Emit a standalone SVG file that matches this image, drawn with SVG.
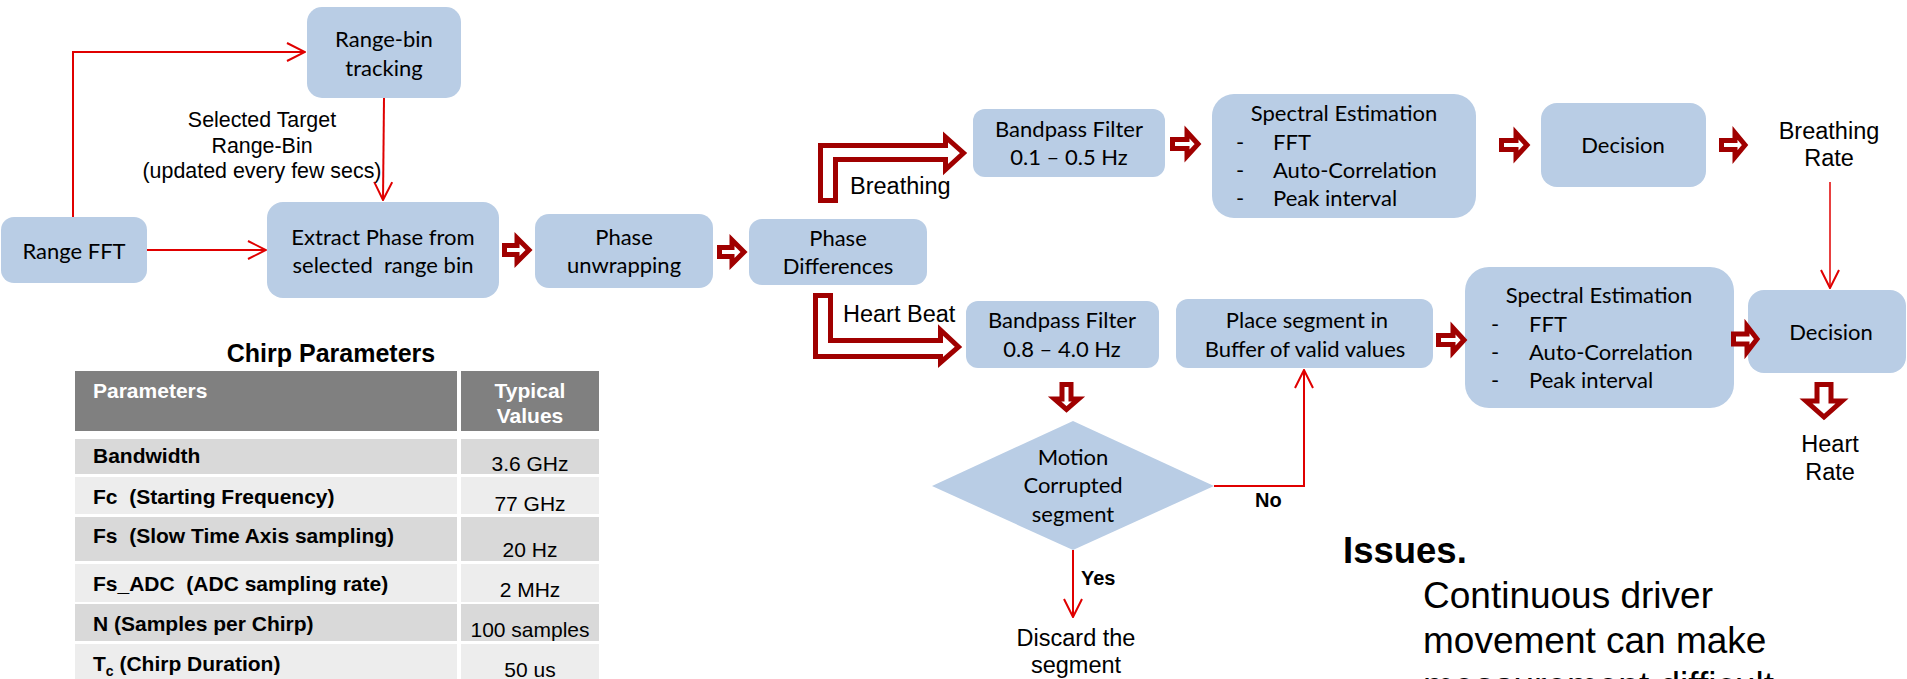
<svg xmlns="http://www.w3.org/2000/svg" width="1907" height="679" viewBox="0 0 1907 679">
<defs>
<style>
.box{fill:#B9CDE5;}
.cal{font-family:Lato,Carlito,"Liberation Sans",sans-serif;font-size:22px;fill:#000;}
.ar{font-family:"Liberation Sans",Arial,sans-serif;fill:#000;}
.lbl{font-size:23.5px;}
.mid{text-anchor:middle;}
.bold{font-weight:bold;}
.harrow{fill:#fff;stroke:#A00000;stroke-width:5;stroke-linejoin:miter;}
.conn{fill:none;stroke:#E00000;stroke-width:2;}
.tb{font-family:"Liberation Sans",Arial,sans-serif;font-size:21px;fill:#000;}
.th{fill:#808080;}
.rd{fill:#D9D9D9;}
.rl{fill:#EDEDED;}
</style>
<marker id="open" viewBox="0 0 20 20" refX="19" refY="10" markerWidth="20" markerHeight="20" markerUnits="userSpaceOnUse" orient="auto">
<path d="M1,1 L19,10 L1,19" fill="none" stroke="#E00000" stroke-width="2"/>
</marker>
</defs>
<rect width="1907" height="679" fill="#fff"/>

<g id="range-fft">
<rect class="box" x="1" y="217" width="146" height="66" rx="13"/>
<text class="cal mid" x="74" y="259">Range FFT</text>
</g>

<g id="range-bin-tracking">
<rect class="box" x="307" y="7" width="154" height="91" rx="15"/>
<text class="cal mid" x="384" y="47">Range-bin</text>
<text class="cal mid" x="384" y="76">tracking</text>
</g>

<g id="extract-phase">
<rect class="box" x="267" y="202" width="232" height="96" rx="16"/>
<text class="cal mid" x="383" y="245">Extract Phase from</text>
<text class="cal mid" x="383" y="273" xml:space="preserve">selected  range bin</text>
</g>

<g id="phase-unwrapping">
<rect class="box" x="535" y="214" width="178" height="74" rx="14"/>
<text class="cal mid" x="624" y="245">Phase</text>
<text class="cal mid" x="624" y="273">unwrapping</text>
</g>

<g id="phase-differences">
<rect class="box" x="749" y="219" width="178" height="66" rx="13"/>
<text class="cal mid" x="838" y="246">Phase</text>
<text class="cal mid" x="838" y="274">Differences</text>
</g>

<g id="bandpass-breathing">
<rect class="box" x="973" y="109" width="192" height="68" rx="12"/>
<text class="cal mid" x="1069" y="137">Bandpass Filter</text>
<text class="cal mid" x="1069" y="165">0.1 – 0.5 Hz</text>
</g>

<g id="spectral-breathing">
<rect class="box" x="1212" y="94" width="264" height="124" rx="22"/>
<text class="cal mid" x="1344" y="121">Spectral Estimation</text>
<text class="cal" x="1236" y="150">-</text>
<text class="cal" x="1273" y="150">FFT</text>
<text class="cal" x="1236" y="178">-</text>
<text class="cal" x="1273" y="178">Auto-Correlation</text>
<text class="cal" x="1236" y="206">-</text>
<text class="cal" x="1273" y="206">Peak interval</text>
</g>

<g id="decision-breathing">
<rect class="box" x="1541" y="103" width="165" height="84" rx="16"/>
<text class="cal mid" x="1623" y="153">Decision</text>
</g>

<g id="breathing-rate">
<text class="ar lbl mid" x="1829" y="139">Breathing</text>
<text class="ar lbl mid" x="1829" y="166">Rate</text>
</g>

<g id="bandpass-heart">
<rect class="box" x="966" y="301" width="193" height="67" rx="12"/>
<text class="cal mid" x="1062" y="328">Bandpass Filter</text>
<text class="cal mid" x="1062" y="357">0.8 – 4.0 Hz</text>
</g>

<g id="place-segment">
<rect class="box" x="1176" y="299" width="257" height="69" rx="12"/>
<text class="cal mid" x="1307" y="328">Place segment in</text>
<text class="cal mid" x="1305" y="357">Buffer of valid values</text>
</g>

<g id="spectral-heart">
<rect class="box" x="1465" y="267" width="269" height="141" rx="24"/>
<text class="cal mid" x="1599" y="303">Spectral Estimation</text>
<text class="cal" x="1491" y="332">-</text>
<text class="cal" x="1529" y="332">FFT</text>
<text class="cal" x="1491" y="360">-</text>
<text class="cal" x="1529" y="360">Auto-Correlation</text>
<text class="cal" x="1491" y="388">-</text>
<text class="cal" x="1529" y="388">Peak interval</text>
</g>

<g id="decision-heart">
<rect class="box" x="1748" y="290" width="158" height="83" rx="16"/>
<text class="cal mid" x="1831" y="340">Decision</text>
</g>

<g id="heart-rate">
<text class="ar lbl mid" x="1830" y="452">Heart</text>
<text class="ar lbl mid" x="1830" y="480">Rate</text>
</g>

<g id="motion-corrupted">
<polygon class="box" points="1073,421 1214,486 1073,550 932,486"/>
<text class="cal mid" x="1073" y="465">Motion</text>
<text class="cal mid" x="1073" y="493">Corrupted</text>
<text class="cal mid" x="1073" y="522">segment</text>
</g>

<g id="discard">
<text class="ar lbl mid" x="1076" y="646">Discard the</text>
<text class="ar lbl mid" x="1076" y="673">segment</text>
</g>

<g id="issues">
<text class="ar bold" x="1343" y="563" font-size="36.5">Issues.</text>
<text class="ar" x="1423" y="608" font-size="37">Continuous driver</text>
<text class="ar" x="1423" y="653" font-size="37">movement can make</text>
<text class="ar" x="1423" y="698" font-size="37">measurement difficult</text>
</g>

<g id="chirp-table">
<text class="ar bold mid" x="331" y="362" font-size="25">Chirp Parameters</text>
<rect class="th" x="75" y="371" width="382" height="60"/>
<rect class="th" x="461" y="371" width="138" height="60"/>
<rect class="rd" x="75" y="439" width="382" height="35"/>
<rect class="rd" x="461" y="439" width="138" height="35"/>
<rect class="rl" x="75" y="477" width="382" height="37"/>
<rect class="rl" x="461" y="477" width="138" height="37"/>
<rect class="rd" x="75" y="517" width="382" height="44"/>
<rect class="rd" x="461" y="517" width="138" height="44"/>
<rect class="rl" x="75" y="564" width="382" height="38"/>
<rect class="rl" x="461" y="564" width="138" height="38"/>
<rect class="rd" x="75" y="604" width="382" height="37"/>
<rect class="rd" x="461" y="604" width="138" height="37"/>
<rect class="rl" x="75" y="644" width="382" height="40"/>
<rect class="rl" x="461" y="644" width="138" height="40"/>
<text class="tb bold" x="93" y="398" style="fill:#fff">Parameters</text>
<text class="tb bold mid" x="530" y="398" style="fill:#fff">Typical</text>
<text class="tb bold mid" x="530" y="423" style="fill:#fff">Values</text>
<text class="tb bold" x="93" y="463">Bandwidth</text>
<text class="tb mid" x="530" y="471">3.6 GHz</text>
<text class="tb bold" x="93" y="504" xml:space="preserve">Fc  (Starting Frequency)</text>
<text class="tb mid" x="530" y="511">77 GHz</text>
<text class="tb bold" x="93" y="543" xml:space="preserve">Fs  (Slow Time Axis sampling)</text>
<text class="tb mid" x="530" y="557">20 Hz</text>
<text class="tb bold" x="93" y="591" xml:space="preserve">Fs_ADC  (ADC sampling rate)</text>
<text class="tb mid" x="530" y="597">2 MHz</text>
<text class="tb bold" x="93" y="631">N (Samples per Chirp)</text>
<text class="tb mid" x="530" y="637">100 samples</text>
<text class="tb bold" x="93" y="671">T<tspan font-size="14" dy="5">c</tspan><tspan dy="-5"> (Chirp Duration)</tspan></text>
<text class="tb mid" x="530" y="677">50 us</text>
</g>

<g id="connectors">
<path class="conn" d="M73,217 V52 H305" marker-end="url(#open)"/>
<path class="conn" d="M147,250 H266" marker-end="url(#open)"/>
<path class="conn" d="M384,98 L383,200" marker-end="url(#open)"/>
<path class="conn" d="M1214,486 H1304 V370" marker-end="url(#open)"/>
<path class="conn" d="M1073,550 V617" marker-end="url(#open)"/>
<path class="conn" d="M1830,182 V288" style="stroke-width:1.5" marker-end="url(#open)"/>
<path class="harrow" d="M504.5,245.5 H517 V238 L529,250 L517,262 V254.5 H504.5 Z"/>
<path class="harrow" d="M719.5,247.5 H732 V240 L744,252 L732,264 V256.5 H719.5 Z"/>
<path class="harrow" d="M1172.5,139.5 H1187 V132 L1198,144 L1187,156 V148.5 H1172.5 Z"/>
<path class="harrow" d="M1501.5,140.5 H1516 V133 L1527,145 L1516,157 V149.5 H1501.5 Z"/>
<path class="harrow" d="M1721.5,140.5 H1735 V133 L1745,145 L1735,157 V149.5 H1721.5 Z"/>
<path class="harrow" d="M1438.5,335.5 H1453 V328 L1464,340 L1453,352 V344.5 H1438.5 Z"/>
<path class="harrow" d="M1733.5,334 H1747 V326 L1757,339 L1747,352 V344 H1733.5 Z"/>
<path class="harrow" d="M1062,384.5 H1071 V399 H1078.5 L1066.5,409.5 L1054.5,399 H1062 Z"/>
<path class="harrow" d="M1817,384.5 H1831 V401 H1842 L1824,417 L1806,401 H1817 Z"/>
<path class="harrow" d="M820.5,200.5 V145.5 H945.5 V137 L963.5,153 L945.5,169.5 V159.5 H835.5 V200.5 Z"/>
<path class="harrow" d="M815.5,295.5 H830.5 V340.5 H940.5 V330 L958.5,347 L940.5,362.5 V356.5 H815.5 Z"/>
<text class="ar mid" x="262" y="127" font-size="21.4">Selected Target</text>
<text class="ar mid" x="262" y="153" font-size="21.4">Range-Bin</text>
<text class="ar mid" x="262" y="178" font-size="21.4">(updated every few secs)</text>
<text class="ar lbl" x="850" y="194">Breathing</text>
<text class="ar lbl" x="843" y="322">Heart Beat</text>
<text class="ar bold" x="1255" y="507" font-size="20">No</text>
<text class="ar bold" x="1081" y="585" font-size="20">Yes</text>
</g>
</svg>
